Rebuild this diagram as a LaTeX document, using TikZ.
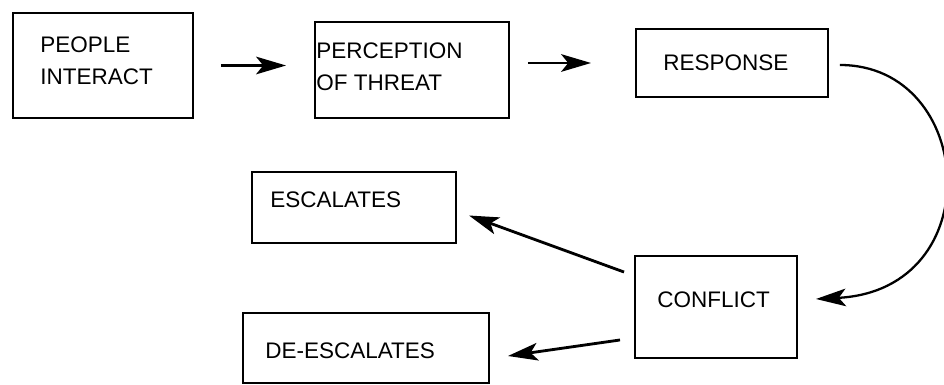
\documentclass[tikz,border=0pt]{standalone}
\usepackage{fontspec}
\setmainfont{Liberation Sans}
\usetikzlibrary{arrows.meta}

\begin{document}
\begin{tikzpicture}[x=0.02cm, y=-0.02cm,
  >={Stealth[length=17pt, width=10pt, inset=4pt]},
  box/.style={draw, line width=1.1pt, inner sep=0pt},
  txt/.style={anchor=west, align=left, inner sep=0pt, font=\fontsize{12.8}{18.2}\selectfont},
  arr/.style={->, line width=1.6pt}]

 \useasboundingbox (0,0) rectangle (944,385);

 %boxes: name/left/top/right/bottom
 \foreach \name/\l/\t/\r/\b in {people/13/13/193/118, perception/315/22/509/118,
     response/636/29/828/97, escalates/252/172/456/243,
     deescalates/243/313/489/383, conflict/635/256/797/358} {
   \node[box, minimum width={(\r-\l)*0.02cm}, minimum height={(\b-\t)*0.02cm}]
     (\name) at ({(\l+\r)/2},{(\t+\b)/2}) {};
 }

 %labels
 \node[txt] (peopletxt) at (40,61) {PEOPLE\\INTERACT};
 \node[txt] (perceptiontxt) at (316,66.5) {PERCEPTION\\OF THREAT};
 \node[txt] (responsetxt) at (663,63) {RESPONSE};
 \node[txt] (escalatestxt) at (270,200) {ESCALATES};
 \node[txt] (deescalatestxt) at (265,351) {DE-ESCALATES};
 \node[txt] (conflicttxt) at (657,300) {CONFLICT};

 %arrows
 \draw[arr, shorten <=0.54cm, shorten >=0.56cm] (people.east) -- (people.east -| perception.west);
 \draw[arr, shorten <=0.36cm, shorten >=0.88cm] (response.west -| perception.east) -- (response.west);
 \draw[arr, line width=1.3pt] ([shift={(11,2)}]response.east) .. controls +(136,0) and +(175,-9) .. ([shift={(18,-8)}]conflict.east);
 \draw[arr] ([shift={(-10,17)}]conflict.north west) -- ([shift={(12,8)}]escalates.east);
 \draw[arr] ([shift={(-14,-19)}]conflict.south west) -- ([shift={(18,8)}]deescalates.east);

\end{tikzpicture}
\end{document}
